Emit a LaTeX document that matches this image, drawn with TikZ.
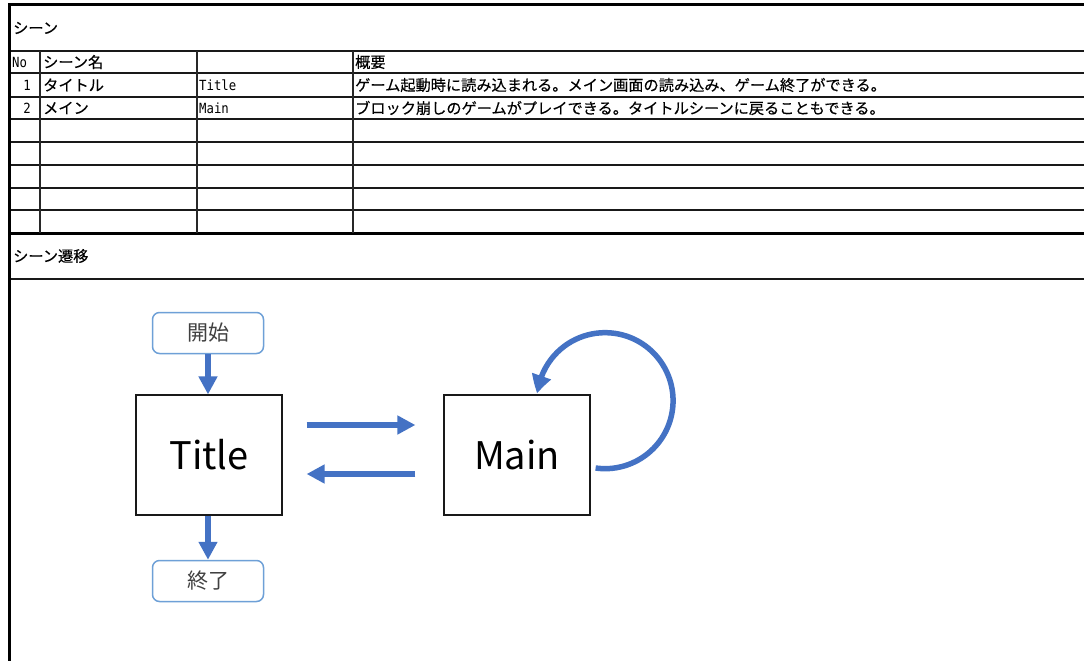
\documentclass[tikz,border=0pt]{standalone}
\usepackage{fontspec}
\setmainfont{Noto Sans CJK JP}
\newfontfamily\cellfont[FakeBold=0.25]{Noto Sans CJK JP}
\newfontfamily\monofont[FakeStretch=0.88]{DejaVu Sans Mono}
\usetikzlibrary{arrows.meta,calc,bending}

\definecolor{flowblue}{RGB}{68,114,196}
\definecolor{edgeblue}{RGB}{110,160,215}
\definecolor{rule}{RGB}{25,25,25}
\definecolor{softtext}{RGB}{64,64,64}

\tikzset{
  cell/.style={anchor=west, inner sep=0pt, font=\cellfont\fontsize{15.2}{17}\selectfont},
  cellmono/.style={anchor=west, inner sep=0pt, font=\monofont\fontsize{14}{16}\selectfont},
  cellnum/.style={anchor=east, inner sep=0pt, font=\monofont\fontsize{14}{16}\selectfont},
  thin rule/.style={draw=rule, line width=2pt},
  thick rule/.style={draw=black, line width=3pt},
  col rule/.style={draw=rule!85!gray, line width=2pt},
  terminal/.style={draw=edgeblue, line width=1.5pt, rounded corners=7pt,
    minimum width=111pt, minimum height=41pt, inner sep=0pt,
    text=softtext, font=\fontsize{21}{21}\selectfont},
  scene/.style={draw=rule, line width=1.2pt, minimum width=146pt,
    minimum height=120pt, inner sep=0pt, font=\fontsize{38}{38}\selectfont},
  flow/.style={draw=flowblue, line width=6pt,
    -{Triangle[length=18pt,width=18pt]}},
  loopflow/.style={draw=flowblue, line width=5.5pt,
    -{Triangle[length=18pt,width=19pt,bend]}},
}

\begin{document}
\begin{tikzpicture}[x=1pt,y=-1pt]
\useasboundingbox[fill=white] (0,0) rectangle (1084,661);

% --- scene list table ---
\draw[thick rule] (9,5) -- (1084,5);
\foreach \y in {51,73,97,119,142,165,188,210}
  \draw[thin rule] (9,\y) -- (1084,\y);
\draw[thick rule] (9,233) -- (1084,233);
\draw[thin rule] (9,279) -- (1084,279);
\draw[thick rule] (9,3.5) -- (9,661);
\foreach \x in {40,197,353}
  \draw[col rule] (\x,51) -- (\x,233);

\node[cell] (secscene) at (13,28) {シーン};
\node[cellmono] (hno) at (12,62) {No};
\node[cell] (hname) at (43,62) {シーン名};
\node[cell] (hdesc) at (355,62) {概要};

\node[cellnum] (n1) at (31,85) {1};
\node[cell] (name1) at (43,85) {タイトル};
\node[cellmono] (id1) at (199,85) {Title};
\node[cell] (desc1) at (355,85) {ゲーム起動時に読み込まれる。メイン画面の読み込み、ゲーム終了ができる。};

\node[cellnum] (n2) at (31,108) {2};
\node[cell] (name2) at (43,108) {メイン};
\node[cellmono] (id2) at (199,108) {Main};
\node[cell] (desc2) at (355,108) {ブロック崩しのゲームがプレイできる。タイトルシーンに戻ることもできる。};

\node[cell] (sectrans) at (13,256) {シーン遷移};

% --- scene transition diagram ---
\node[terminal] (start) at (208,333) {開始};
\node[scene] (title) at (209,455) {Title};
\node[terminal] (end) at (208,581) {終了};
\node[scene] (main) at (517,455) {Main};

\draw[flow] (start.south) -- (start.south |- title.north);
\draw[flow] (title.south -| end.north) -- (end.north);
\draw[flow] ($(title.east)+(24,-30)$) -- ($(main.west)+(-28,-30)$);
\draw[flow] ($(main.west)+(-28,19)$) -- ($(title.east)+(24,19)$);
\draw[loopflow] ($(main.east)+(5,13)$) arc[start angle=98, end angle=-174, radius=68];
\end{tikzpicture}
\end{document}
